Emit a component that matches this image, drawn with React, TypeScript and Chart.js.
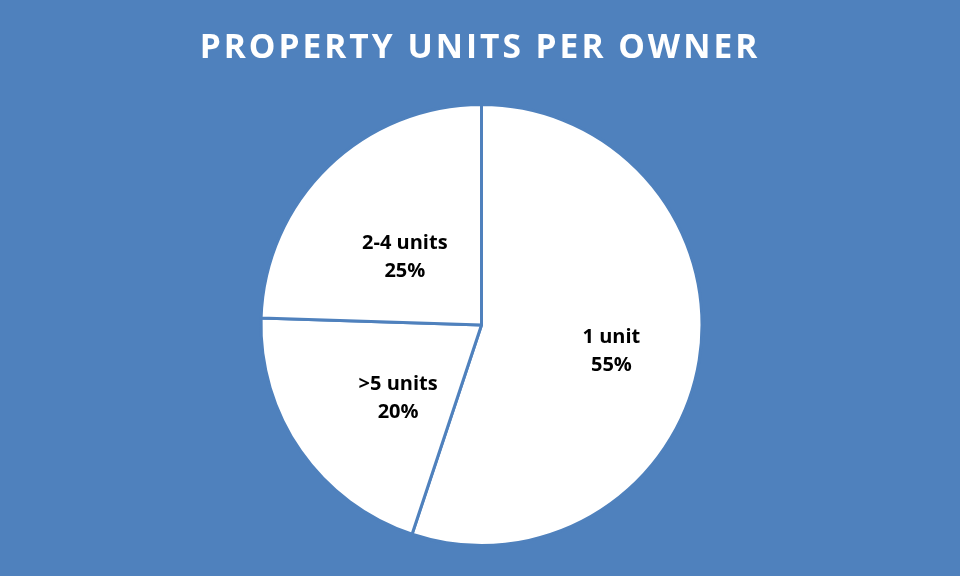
import React, { useEffect, useRef } from "react";
import { Chart, registerables } from "chart.js";

Chart.register(...registerables);

const titleText = "PROPERTY UNITS PER OWNER";
const categories = ["1 unit", ">5 units", "2-4 units"];
const shares = [55.1, 20.4, 24.5];
const pctLabels = ["55%", "20%", "25%"];

const BLUE = "#4F81BD";

const labelPlugin = {
  id: "sliceLabels",
  afterDatasetsDraw(chart: any, _args: any, opts: any) {
    const meta = chart.getDatasetMeta(0);
    const ctx = chart.ctx;
    ctx.save();
    ctx.fillStyle = "#000";
    ctx.font = opts.font;
    ctx.textAlign = "center";
    ctx.textBaseline = "middle";
    meta.data.forEach((arc: any, i: number) => {
      const p = arc.getProps(["x", "y", "startAngle", "endAngle", "outerRadius"], true);
      const a = p.startAngle + (p.endAngle - p.startAngle) * opts.angleFrac[i];
      const r = p.outerRadius * opts.radii[i];
      const cx = p.x + Math.cos(a) * r;
      const cy = p.y + Math.sin(a) * r + opts.dy;
      ctx.fillText(categories[i], cx, cy - opts.lineGap / 2);
      ctx.fillText(pctLabels[i], cx, cy + opts.lineGap / 2);
    });
    ctx.restore();
  },
};

const titlePlugin = {
  id: "spacedTitle",
  afterDraw(chart: any, _args: any, opts: any) {
    const ctx = chart.ctx;
    ctx.save();
    ctx.fillStyle = "#fff";
    ctx.font = opts.font;
    (ctx as any).letterSpacing = opts.spacing;
    ctx.textAlign = "center";
    ctx.textBaseline = "middle";
    ctx.fillText(titleText, chart.width / 2, opts.y);
    ctx.restore();
  },
};

export default function App() {
  const ref = useRef<HTMLCanvasElement>(null);
  useEffect(() => {
    document.body.style.margin = "0";
    const chart = new Chart(ref.current!, {
      type: "pie",
      data: {
        labels: categories,
        datasets: [
          {
            data: shares,
            backgroundColor: "#FFFFFF",
            borderColor: BLUE,
            borderWidth: 3,
          },
        ],
      },
      options: {
        animation: false,
        responsive: false,
        layout: { padding: { top: 103, bottom: 29, left: 3, right: 0 } },
        plugins: {
          legend: { display: false },
          tooltip: { enabled: false },
          title: { display: false },
          sliceLabels: {
            font: "bold 20px 'Open Sans'",
            lineGap: 28,
            dy: 1,
            radii: [0.6, 0.5, 0.468],
            angleFrac: [0.509, 0.419, 0.456],
          },
          spacedTitle: {
            font: "bold 33.5px 'Open Sans'",
            spacing: "3px",
            y: 48,
          },
        } as any,
      },
      plugins: [labelPlugin, titlePlugin],
    });
    return () => chart.destroy();
  }, []);
  return (
    <div style={{ width: 960, height: 576, background: BLUE }}>
      <canvas ref={ref} width={960} height={576} />
    </div>
  );
}
